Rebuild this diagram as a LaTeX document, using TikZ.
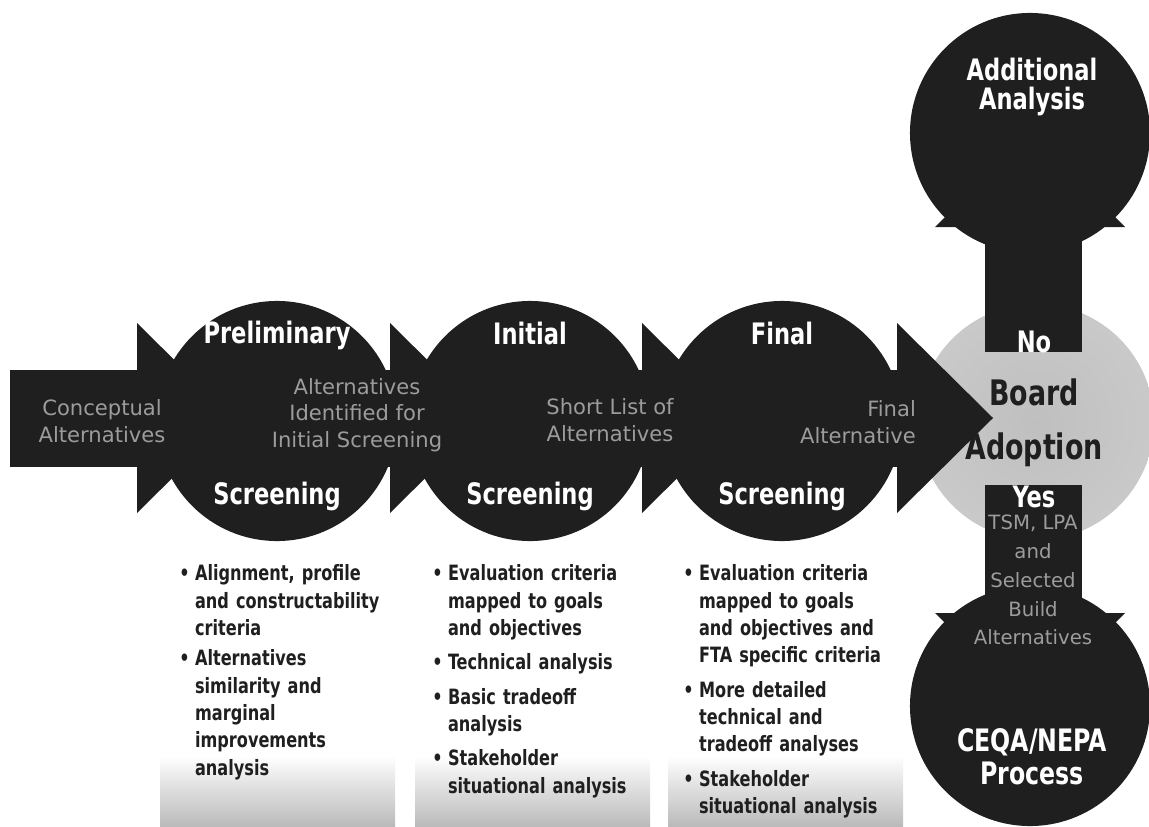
\documentclass[tikz,border=0pt]{standalone}
\usepackage{fontspec}
\setmainfont{DejaVu Sans Condensed}[FakeStretch=0.85]
\newfontfamily\flowfont{DejaVu Sans}
\usepackage{xcolor}
\definecolor{ink}{HTML}{1F1F1F}
\definecolor{fog}{HTML}{9C9C9C}
\pgfdeclareradialshading{grain}{\pgfpoint{0bp}{0bp}}{color(0bp)=(gray!50); color(26bp)=(gray!42); color(40bp)=(gray!26); color(50bp)=(white)}
\newcommand{\bitem}[1]{\par\noindent\makebox[0.75em][l]{\textbullet}\parbox[t]{5.2cm}{#1}\par\prevdepth=\dp\strutbox\vspace{7.5pt}}

\begin{document}
\begin{tikzpicture}[x=0.025cm,y=-0.025cm,
    stage/.style={circle,fill=ink,minimum size=6cm,inner sep=0pt},
    title/.style={text=white,font=\bfseries\fontsize{21}{21}\selectfont,align=center},
    flow/.style={text=fog,font=\flowfont\fontsize{15}{19}\selectfont,align=center},
    notes/.style={text=ink,font=\bfseries\fontsize{15}{19.5}\selectfont,text width=6cm,align=left,anchor=north west,inner sep=0pt}]
  \useasboundingbox (0,0) rectangle (1149,827);
  % grey grain under the lists
  \foreach \x in {160,415,668}
    \shade[top color=white,bottom color=gray!55] (\x,756) rectangle ++(235,71);
  \node[circle,minimum size=5.9cm,shading=grain] (board) at (1036,422) {};
  % main flow band
  \fill[ink] (10,370) rectangle (897,467);
  \foreach \x in {137,390,642,897}
    \fill[ink] (\x,323) -- (\x+96,418) -- (\x,513) -- cycle;
  % decision band
  \fill[ink] (985,227) rectangle (1082,352);
  \fill[ink] (985,485) rectangle (1082,613);
  \fill[ink] (935,227) -- (1030,132) -- (1125,227) -- cycle;
  \fill[ink] (935,613) -- (1030,708) -- (1125,613) -- cycle;
  \node[stage] (prelim) at (277,421) {};
  \node[stage] (initial) at (530,421) {};
  \node[stage] (final) at (782,421) {};
  \node[stage] (extra) at (1030,133) {};
  \node[stage] (ceqa) at (1030,706) {};
  \node[title] (prelimtop) at (277,335) {Preliminary};
  \node[title] (prelimbot) at (277,496) {Screening};
  \node[title] (initialtop) at (530,333) {Initial};
  \node[title] (initialbot) at (530,496) {Screening};
  \node[title] (finaltop) at (782,333) {Final};
  \node[title] (finalbot) at (782,496) {Screening};
  \node[title,font=\bfseries\fontsize{21}{20}\selectfont] (extratext) at (1032,87) {Additional\\Analysis};
  \node[title,font=\bfseries\fontsize{22}{23.5}\selectfont] (ceqatext) at (1032,757) {CEQA/NEPA\\Process};
  \node[title,font=\bfseries\fontsize{21}{21}\selectfont] (no) at (1034,342) {No};
  \node[title,font=\bfseries\fontsize{21}{21}\selectfont] (yes) at (1034,497) {Yes};
  \node[title,text=ink,font=\bfseries\fontsize{25}{25}\selectfont] (boardtext) at (1034,392) {Board};
  \node[title,text=ink,font=\bfseries\fontsize{25}{25}\selectfont] (adoption) at (1034,450) {Adoption};
  % flow labels
  \node[flow] (concept) at (102,421) {Conceptual\\Alternatives};
  \node[flow] (identified) at (357,415) {Alternatives\\Identified for\\Initial Screening};
  \node[flow] (shortlist) at (610,420) {Short List of\\Alternatives};
  \node[flow,align=right] (finalalt) at (858,422) {Final\\Alternative};
  \node[flow,font=\flowfont\fontsize{14}{20.5}\selectfont] (tsm) at (1033,580) {TSM, LPA\\and\\Selected\\Build\\Alternatives};
  % criteria lists
  \node[notes] (prelimnotes) at (179,553) {%
    \bitem{Alignment, profile\\and constructability\\criteria}
    \bitem{Alternatives\\similarity and\\marginal\\improvements\\analysis}};
  \node[notes] (initialnotes) at (432,553) {%
    \bitem{Evaluation criteria\\mapped to goals\\and objectives}
    \bitem{Technical analysis}
    \bitem{Basic tradeoff\\analysis}
    \bitem{Stakeholder\\situational analysis}};
  \node[notes] (finalnotes) at (683,553) {%
    \bitem{Evaluation criteria\\mapped to goals\\and objectives and\\FTA specific criteria}
    \bitem{More detailed\\technical and\\tradeoff analyses}
    \bitem{Stakeholder\\situational analysis}};
\end{tikzpicture}
\end{document}
